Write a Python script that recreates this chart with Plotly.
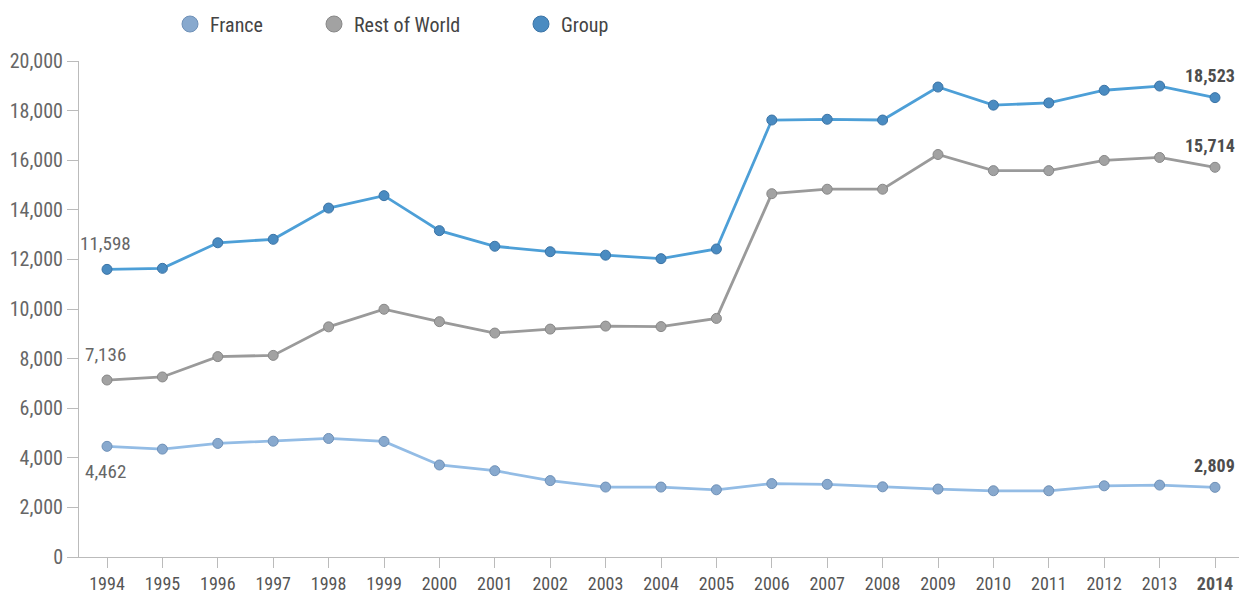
import plotly.graph_objects as go

# Workforce by region, 1994-2014
years = [1994, 1995, 1996, 1997, 1998, 1999, 2000, 2001, 2002, 2003, 2004,
         2005, 2006, 2007, 2008, 2009, 2010, 2011, 2012, 2013, 2014]
france = [4462, 4350, 4580, 4670, 4780, 4660, 3710, 3480, 3080, 2820, 2820,
          2710, 2960, 2930, 2830, 2740, 2670, 2670, 2870, 2900, 2809]
rest_of_world = [7136, 7260, 8080, 8130, 9280, 9990, 9490, 9030, 9190, 9310, 9290,
                 9620, 14650, 14830, 14830, 16230, 15580, 15580, 15990, 16110, 15714]
group = [11598, 11640, 12670, 12810, 14070, 14570, 13160, 12530, 12310, 12170, 12030,
         12420, 17620, 17650, 17620, 18950, 18220, 18310, 18820, 18990, 18523]

series_names = ["France", "Rest of World", "Group"]
y_ticks = [0, 2000, 4000, 6000, 8000, 10000, 12000, 14000, 16000, 18000, 20000]
x_tick_text = [str(y) for y in years[:-1]] + ["<b>%d</b>" % years[-1]]

FONT = "Liberation Sans Narrow, Arial Narrow, Roboto Condensed, DejaVu Sans Condensed, sans-serif"

styles = {
    "France": dict(line="#93bce5", fill="#88a9ce", edge="#6f91b8"),
    "Rest of World": dict(line="#9a9a9a", fill="#a2a2a2", edge="#888888"),
    "Group": dict(line="#4d9fd7", fill="#4a8bc1", edge="#3b74a6"),
}
values = {"France": france, "Rest of World": rest_of_world, "Group": group}

fig = go.Figure()
for name in series_names:
    s = styles[name]
    fig.add_trace(go.Scatter(
        x=years, y=values[name], mode="lines+markers", name=name,
        line=dict(color=s["line"], width=2.8),
        marker=dict(size=10, color=s["fill"], line=dict(color=s["edge"], width=1)),
        showlegend=False, cliponaxis=False,
    ))

# One legend per series so each entry sits at its own spot
legend_ids = ["legend", "legend2", "legend3"]
legend_x = [170, 314, 521]
for name, lid in zip(series_names, legend_ids):
    s = styles[name]
    fig.add_trace(go.Scatter(
        x=[None], y=[None], mode="markers", name=name, legend=lid,
        marker=dict(size=16, color=s["fill"], line=dict(color=s["edge"], width=1)),
        showlegend=True,
    ))

legend_common = dict(
    orientation="h", xref="container", yref="container",
    yanchor="middle", xanchor="left", y=1 - 24 / 594,
    font=dict(family=FONT, size=20, color="#444444"),
    bgcolor="rgba(0,0,0,0)", borderwidth=0, itemclick=False, itemdoubleclick=False,
)
layout_legends = {}
for lid, lx in zip(legend_ids, legend_x):
    layout_legends[lid] = dict(legend_common, x=lx / 1239)

# Start and end value labels
annotations = []
start_labels = [(group, 26), (rest_of_world, 26), (france, -25)]
for series, shift in start_labels:
    annotations.append(dict(
        x=years[0], y=series[0], xref="x", yref="y",
        text=f"{series[0]:,}", showarrow=False,
        yshift=shift, xshift=-2,
        font=dict(family=FONT, size=19, color="#666666"),
    ))
for series in (group, rest_of_world, france):
    annotations.append(dict(
        x=years[-1], y=series[-1], xref="x", yref="y",
        text=f"<b>{series[-1]:,}</b>", showarrow=False,
        xanchor="right", yshift=22, xshift=22,
        font=dict(family=FONT, size=18, color="#4d4d4d"),
    ))

fig.update_layout(
    width=1239, height=594,
    margin=dict(l=79, r=0, t=61, b=37, pad=0, autoexpand=False),
    paper_bgcolor="white", plot_bgcolor="white",
    font=dict(family=FONT, size=20, color="#666666"),
    xaxis=dict(
        range=[1994 - 28 / 55.4, 2014 + 24 / 55.4],
        tickmode="array", tickvals=years, ticktext=x_tick_text,
        ticks="outside", ticklen=10, tickcolor="#bbbbbb", tickwidth=1,
        showline=True, linecolor="#bbbbbb", linewidth=1,
        showgrid=False, zeroline=False, automargin=False,
        tickfont=dict(family=FONT, size=18, color="#555555"),
    ),
    yaxis=dict(
        range=[0, 20000],
        tickmode="array", tickvals=y_ticks,
        ticktext=[f"{v:,}" for v in y_ticks],
        ticks="outside", ticklen=11, tickcolor="#bbbbbb", tickwidth=1,
        showline=True, linecolor="#bbbbbb", linewidth=1,
        showgrid=False, zeroline=False, automargin=False,
        tickfont=dict(family=FONT, size=20, color="#666666"),
    ),
    annotations=annotations,
    hovermode=False,
    **layout_legends,
)

fig.write_html("out.html")
